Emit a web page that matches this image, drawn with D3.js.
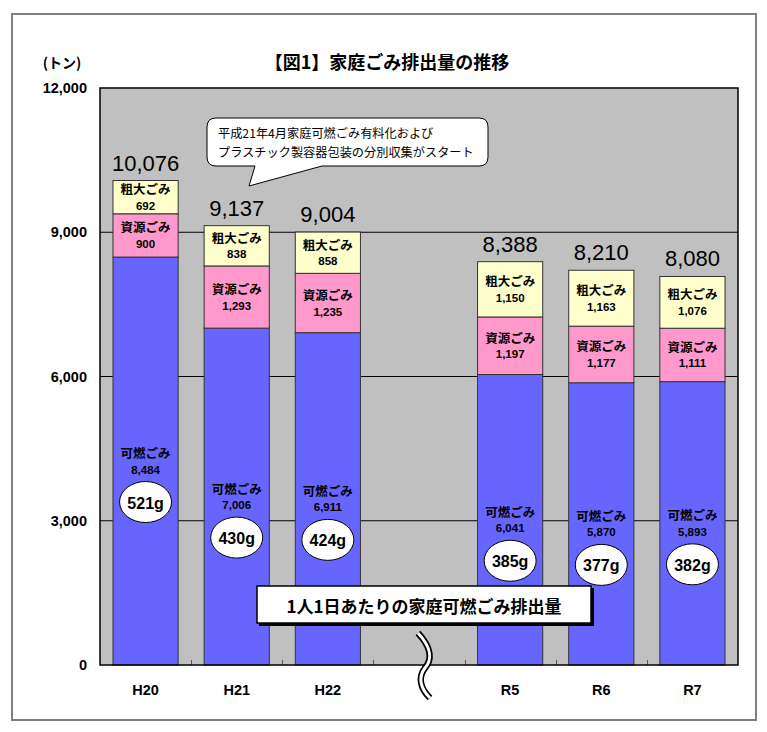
<!DOCTYPE html>
<html><head><meta charset="utf-8">
<script src="https://cdn.jsdelivr.net/npm/d3@7"></script>
<style>
html,body{margin:0;padding:0;background:#fff;}
svg{display:block;}
</style></head>
<body>
<svg id="chart" width="767" height="732"></svg>
<script>
// ---- data ----
const categories = ["H20", "H21", "H22", "~", "R5", "R6", "R7"]; // "~" = axis break slot
const years = ["H20", "H21", "H22", "R5", "R6", "R7"];
const kanen = [8484, 7006, 6911, 6041, 5870, 5893];   // 可燃ごみ
const shigen = [900, 1293, 1235, 1197, 1177, 1111];   // 資源ごみ
const sodai = [692, 838, 858, 1150, 1163, 1076];      // 粗大ごみ
const totals = [10076, 9137, 9004, 8388, 8210, 8080];
const perPerson = ["521g", "430g", "424g", "385g", "377g", "382g"];
const yTicks = [0, 3000, 6000, 9000, 12000];
const seriesNames = ["可燃ごみ", "資源ごみ", "粗大ごみ"];
const title = "【図1】家庭ごみ排出量の推移";
const unitLabel = "(トン)";
const calloutLines = ["平成21年4月家庭可燃ごみ有料化および", "プラスチック製容器包装の分別収集がスタート"];
const legendText = "1人1日あたりの家庭可燃ごみ排出量";

const JP = "'Noto Sans CJK JP','Noto Sans',sans-serif";
const NUM = "'Liberation Sans',Arial,sans-serif";
const colors = ["#6666FF", "#FF99CC", "#FFFFCC"];

const svg = d3.select("#chart");
const L = 100, R = 738, T = 88, B = 665;

// outer frame
svg.append("rect").attr("x", 12).attr("y", 14).attr("width", 744).attr("height", 706)
  .attr("fill", "#fff").attr("stroke", "#808080").attr("stroke-width", 2);

const x = d3.scaleBand().domain(categories).range([L, R]).paddingInner(0.285).paddingOuter(0.1425);
const y = d3.scaleLinear().domain([0, 12000]).range([B, T]);
const fmt = d3.format(",");

// plot background
svg.append("rect").attr("x", L).attr("y", T).attr("width", R - L).attr("height", B - T).attr("fill", "#C0C0C0");

// gridlines
svg.append("g").selectAll("line").data(yTicks.filter(d => d > 0 && d < 12000)).join("line")
  .attr("x1", L).attr("x2", R).attr("y1", d => y(d)).attr("y2", d => y(d))
  .attr("stroke", "#000").attr("stroke-width", 1);

// x ticks at slot boundaries (inward)
const step = x.step();
svg.append("g").selectAll("line").data(d3.range(1, categories.length)).join("line")
  .attr("x1", k => Math.round(L + step * k) + 0.5).attr("x2", k => Math.round(L + step * k) + 0.5)
  .attr("y1", B).attr("y2", B - 5).attr("stroke", "#555").attr("stroke-width", 1);

// stacked data
const rows = years.map((yr, i) => ({ yr, vals: [kanen[i], shigen[i], sodai[i]] }));
const bars = svg.append("g");
rows.forEach((r, i) => {
  let base = 0;
  r.vals.forEach((v, j) => {
    const y0 = y(base), y1 = y(base + v);
    bars.append("rect").attr("x", x(r.yr)).attr("width", x.bandwidth())
      .attr("y", y1).attr("height", y0 - y1)
      .attr("fill", colors[j]).attr("stroke", "#333").attr("stroke-width", 1);
    const cy = (y0 + y1) / 2;
    const cx = x(r.yr) + x.bandwidth() / 2;
    bars.append("text").attr("x", cx).attr("y", cy - 8.5).attr("text-anchor", "middle")
      .attr("dominant-baseline", "central").attr("font-family", JP).attr("font-weight", "bold")
      .attr("font-size", 12.5).text(seriesNames[j]);
    bars.append("text").attr("x", cx).attr("y", cy + 8.5).attr("text-anchor", "middle")
      .attr("dominant-baseline", "central").attr("font-family", NUM).attr("font-weight", "bold")
      .attr("font-size", 11.5).text(fmt(v));
    if (j === 0) {
      bars.append("ellipse").attr("cx", cx).attr("cy", cy + 41).attr("rx", 26).attr("ry", 20.5)
        .attr("fill", "#fff").attr("stroke", "#000").attr("stroke-width", 1);
      bars.append("text").attr("x", cx).attr("y", cy + 42).attr("text-anchor", "middle")
        .attr("dominant-baseline", "central").attr("font-family", NUM).attr("font-weight", "bold")
        .attr("font-size", 16).text(perPerson[i]);
    }
    base += v;
  });
  svg.append("text").attr("x", x(r.yr) + x.bandwidth() / 2).attr("y", y(totals[i]) - 10)
    .attr("text-anchor", "middle").attr("font-family", NUM).attr("font-size", 22).attr("fill", "#000")
    .text(fmt(totals[i]));
});

// plot border
svg.append("rect").attr("x", L).attr("y", T).attr("width", R - L).attr("height", B - T)
  .attr("fill", "none").attr("stroke", "#000").attr("stroke-width", 1.5);

// y axis labels
svg.append("g").selectAll("text").data(yTicks).join("text")
  .attr("x", 87).attr("y", d => y(d)).attr("text-anchor", "end").attr("dominant-baseline", "central")
  .attr("font-family", NUM).attr("font-weight", "bold").attr("font-size", 14.5).text(d => fmt(d));

// x labels
svg.append("g").selectAll("text").data(years).join("text")
  .attr("x", d => x(d) + x.bandwidth() / 2).attr("y", 690).attr("text-anchor", "middle")
  .attr("dominant-baseline", "central").attr("font-family", NUM).attr("font-weight", "bold")
  .attr("font-size", 14.5).text(d => d);

// axis break symbol
const bx = x("~") + x.bandwidth() / 2;
const brk = `M${bx - 1},633 C${bx + 13},648 ${bx + 13},660 ${bx + 6},668 C${bx - 1},677 ${bx + 1},688 ${bx + 11},698`;
svg.append("path").attr("d", brk).attr("fill", "none").attr("stroke", "#000").attr("stroke-width", 6.5);
svg.append("path").attr("d", brk).attr("fill", "none").attr("stroke", "#fff").attr("stroke-width", 3);

// title and unit
svg.append("text").attr("x", 387).attr("y", 61).attr("text-anchor", "middle").attr("dominant-baseline", "central")
  .attr("font-family", JP).attr("font-weight", "bold").attr("font-size", 18).text(title);
svg.append("text").attr("x", 62).attr("y", 62).attr("text-anchor", "middle").attr("dominant-baseline", "central")
  .attr("font-family", JP).attr("font-weight", "bold").attr("font-size", 14).text(unitLabel);

// callout
const cx0 = 207, cx1 = 488, cy0 = 118, cy1 = 166, r = 9;
const callout = `M${cx0 + r},${cy0} H${cx1 - r} Q${cx1},${cy0} ${cx1},${cy0 + r} V${cy1 - r} Q${cx1},${cy1} ${cx1 - r},${cy1}
 H322 L249,186 L255,${cy1} H${cx0 + r} Q${cx0},${cy1} ${cx0},${cy1 - r} V${cy0 + r} Q${cx0},${cy0} ${cx0 + r},${cy0} Z`;
svg.append("path").attr("d", callout).attr("fill", "#fff").attr("stroke", "#000").attr("stroke-width", 1);
calloutLines.forEach((t, i) => {
  svg.append("text").attr("x", 218).attr("y", 133 + i * 19).attr("dominant-baseline", "central")
    .attr("font-family", JP).attr("font-size", 12.2).text(t);
});

// legend box
svg.append("rect").attr("x", 259).attr("y", 588).attr("width", 335).attr("height", 38).attr("fill", "#000");
svg.append("rect").attr("x", 257).attr("y", 586).attr("width", 334).attr("height", 37)
  .attr("fill", "#fff").attr("stroke", "#000").attr("stroke-width", 1.5);
svg.append("text").attr("x", 424).attr("y", 605).attr("text-anchor", "middle").attr("dominant-baseline", "central")
  .attr("font-family", JP).attr("font-weight", "bold").attr("font-size", 17).text(legendText);
</script>
</body></html>
